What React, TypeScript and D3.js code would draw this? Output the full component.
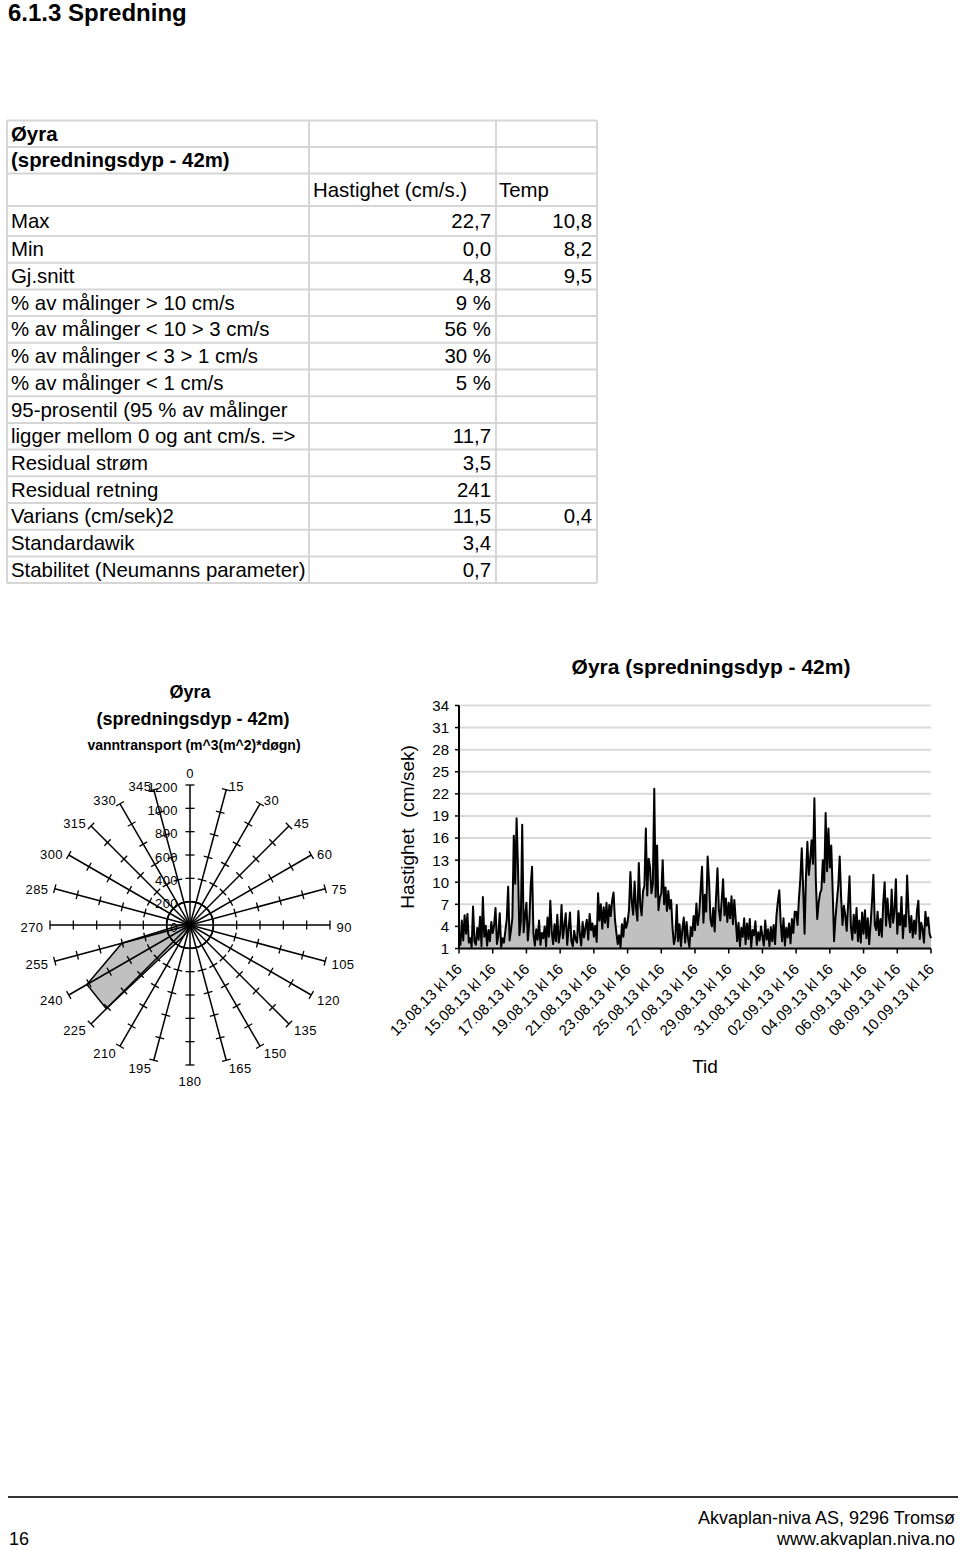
import React from 'react';
import * as d3 from 'd3';

const FONT = "'Liberation Sans', Arial, Helvetica, sans-serif";
const NARROW = "'Liberation Sans Narrow', 'Liberation Sans', Arial, sans-serif";

// ---------------- page text
const pageTitle = '6.1.3 Spredning';
const footerRight = ['Akvaplan-niva AS, 9296 Tromsø', 'www.akvaplan.niva.no'];
const pageNumber = '16';

// ---------------- table
const tableTitle = ['Øyra', '(spredningsdyp - 42m)'];
const tableColumns = ['Hastighet (cm/s.)', 'Temp'];
const rowLabels = [
  'Max', 'Min', 'Gj.snitt',
  '% av målinger > 10 cm/s', '% av målinger < 10 > 3 cm/s', '% av målinger < 3 > 1 cm/s', '% av målinger < 1 cm/s',
  '95-prosentil (95 % av målinger', 'ligger mellom 0 og ant cm/s. =>',
  'Residual strøm', 'Residual retning', 'Varians (cm/sek)2', 'Standardawik', 'Stabilitet (Neumanns parameter)',
];
const speedStats = ['22,7', '0,0', '4,8', '9 %', '56 %', '30 %', '5 %', '', '11,7', '3,5', '241', '11,5', '3,4', '0,7'];
const tempStats = ['10,8', '8,2', '9,5', '', '', '', '', '', '', '', '', '0,4', '', ''];

// ---------------- polar (vanntransport)
const polarTitle = ['Øyra', '(spredningsdyp  - 42m)', 'vanntransport (m^3(m^2)*døgn)'];
const directions = [0, 15, 30, 45, 60, 75, 90, 105, 120, 135, 150, 165, 180, 195, 210, 225, 240, 255, 270, 285, 300, 315, 330, 345];
const transport = [10, 10, 10, 15, 15, 20, 20, 20, 20, 25, 25, 30, 30, 40, 110, 1015, 1020, 605, 80, 30, 20, 15, 10, 10];
const transportTicks = [0, 200, 400, 600, 800, 1000, 1200];

// ---------------- time series (every 2 hours from 13.08.13 kl 16)
const seriesTitle = 'Øyra (spredningsdyp - 42m)';
const yTitle = 'Hastighet  (cm/sek)';
const xTitle = 'Tid';
const yTicks = [1, 4, 7, 10, 13, 16, 19, 22, 25, 28, 31, 34];
const dateLabels = [
  '13.08.13 kl 16', '15.08.13 kl 16', '17.08.13 kl 16', '19.08.13 kl 16', '21.08.13 kl 16',
  '23.08.13 kl 16', '25.08.13 kl 16', '27.08.13 kl 16', '29.08.13 kl 16', '31.08.13 kl 16',
  '02.09.13 kl 16', '04.09.13 kl 16', '06.09.13 kl 16', '08.09.13 kl 16', '10.09.13 kl 16',
];
const speed = [
  3.2, 1.5, 4.8, 2.1, 5.5, 3.0, 5.7, 1.8, 2.4, 1.2, 6.7, 2.0,
  1.5, 3.8, 2.2, 5.3, 1.3, 8.0, 2.6, 4.1, 1.4, 3.5, 2.0, 4.6,
  3.1, 4.2, 6.5, 1.6, 2.8, 5.8, 1.2, 2.4, 1.8, 3.4, 5.0, 9.4,
  2.1, 3.5, 5.2, 16.3, 9.8, 18.7, 12.0, 2.8, 4.6, 17.8, 3.2, 5.4,
  7.2, 2.1, 4.4, 9.4, 12.1, 3.0, 1.4, 3.6, 2.2, 4.8, 1.5, 3.1,
  2.4, 4.0, 1.3, 5.2, 2.6, 7.5, 3.3, 1.6, 4.3, 2.0, 5.6, 1.8,
  3.0, 6.9, 2.4, 4.1, 5.8, 1.5, 3.6, 5.9, 2.0, 1.3, 3.4, 2.2,
  1.8, 6.1, 3.0, 1.4, 4.6, 2.5, 3.8, 4.9, 2.2, 5.7, 3.5, 4.4,
  2.6, 4.1, 1.9, 8.5, 4.8, 7.0, 3.7, 6.6, 4.5, 7.2, 3.9, 6.9,
  5.4, 7.5, 8.6, 5.0, 3.2, 1.6, 2.8, 1.2, 4.3, 2.6, 5.1, 3.8,
  4.6, 6.2, 11.4, 7.3, 5.6, 10.1, 6.5, 4.8, 12.6, 7.0, 5.5, 8.8,
  9.5, 17.3, 8.2, 13.2, 12.0, 8.5, 9.8, 22.7, 8.0, 15.0, 6.2, 7.9,
  8.5, 13.0, 7.0, 9.3, 6.1, 8.8, 6.4, 7.6, 3.8, 1.6, 2.5, 6.9,
  2.0, 4.3, 1.3, 3.6, 5.2, 1.8, 4.6, 2.4, 1.2, 3.9, 2.7, 5.4,
  3.5, 7.1, 4.2, 5.8, 9.0, 12.1, 4.5, 8.3, 6.0, 13.5, 10.2, 5.0,
  4.0, 6.5, 3.3, 8.0, 11.9, 6.2, 4.8, 7.5, 10.4, 5.5, 7.8, 4.6,
  7.2, 5.1, 8.1, 4.3, 7.6, 4.9, 2.0, 4.5, 1.3, 3.8, 2.6, 5.1,
  1.6, 4.4, 2.3, 5.0, 1.2, 3.5, 2.8, 4.7, 1.5, 3.2, 2.1, 4.0,
  2.6, 1.4, 4.8, 2.2, 3.6, 1.3, 3.9, 2.0, 4.2, 1.6, 5.5, 7.4,
  8.9, 4.5, 2.0, 5.1, 1.4, 3.8, 2.5, 4.4, 1.7, 5.0, 3.1, 6.0,
  6.0, 4.2, 7.8, 10.5, 14.6, 9.2, 3.0, 10.8, 15.5, 11.0, 13.0, 15.7,
  12.5, 21.4, 10.3, 5.0, 7.2, 8.5, 9.0, 13.0, 10.0, 19.4, 11.5, 17.3,
  12.0, 15.0, 8.8, 2.0, 5.2, 7.4, 9.6, 13.5, 8.0, 4.2, 6.8, 5.5,
  3.4, 7.0, 10.8, 4.0, 2.2, 5.6, 3.1, 6.5, 2.0, 4.8, 1.8, 5.9,
  3.0, 6.2, 2.4, 5.1, 1.6, 4.3, 7.4, 11.0, 4.2, 3.5, 6.0, 2.8,
  5.0, 2.6, 7.2, 10.0, 4.1, 7.8, 5.2, 3.9, 9.0, 4.5, 6.1, 10.4,
  3.0, 5.8, 4.2, 8.0, 2.4, 5.5, 4.0, 10.9, 6.0, 3.2, 5.4, 2.5,
  4.8, 3.0, 6.1, 7.5, 2.3, 4.5, 3.6, 1.8, 6.0, 4.1, 5.2, 3.0,
  2.4,
];
const STEP_HOURS = 2;

// ================= components
function Table() {
  const colX = [7, 309, 496, 597];
  const bounds = [120.5, 147, 173.5, 206, ...d3.range(14).map((k) => 236 + 26.7 * k)];
  const border = '#d6d6d6';
  const rows: { a: string; b: string; c: string; bold?: boolean; header?: boolean }[] = [
    { a: tableTitle[0], b: '', c: '', bold: true },
    { a: tableTitle[1], b: '', c: '', bold: true },
    { a: '', b: tableColumns[0], c: tableColumns[1], header: true },
    ...rowLabels.map((l, i) => ({ a: l, b: speedStats[i], c: tempStats[i] })),
  ];
  return (
    <g fontFamily={FONT} fontSize={20.4} fill="#000">
      {bounds.map((y, i) => (
        <line key={'h' + i} x1={colX[0]} x2={colX[3]} y1={y} y2={y} stroke={border} strokeWidth={2} />
      ))}
      {colX.map((x, i) => (
        <line key={'v' + i} x1={x} x2={x} y1={bounds[0]} y2={bounds[bounds.length - 1]} stroke={border} strokeWidth={2} />
      ))}
      {rows.map((r, i) => {
        const yb = (bounds[i] + bounds[i + 1]) / 2 + 7;
        return (
          <g key={'r' + i}>
            <text x={11} y={yb} fontWeight={r.bold ? 'bold' : 'normal'}>{r.a}</text>
            {r.header ? (
              <>
                <text x={313} y={yb}>{r.b}</text>
                <text x={499} y={yb}>{r.c}</text>
              </>
            ) : (
              <>
                <text x={491} y={yb} textAnchor="end">{r.b}</text>
                <text x={592} y={yb} textAnchor="end">{r.c}</text>
              </>
            )}
          </g>
        );
      })}
    </g>
  );
}

function Polar() {
  const cx = 190, cy = 925, R = 140;
  const r = d3.scaleLinear().domain([0, 1200]).range([0, R]);
  const rad = (a: number) => (a * Math.PI) / 180;
  const pt = (a: number, rr: number): [number, number] => [cx + rr * Math.sin(rad(a)), cy - rr * Math.cos(rad(a))];
  const radial = d3
    .lineRadial<number>()
    .angle((_, i) => rad(directions[i]))
    .radius((d) => r(d))
    .curve(d3.curveLinearClosed);
  const tickVals = transportTicks.filter((t) => t > 0);
  return (
    <g>
      <defs>
        <clipPath id="polarClip">
          <rect x={0} y={660} width={385} height={426} />
        </clipPath>
      </defs>
      <g fontFamily={FONT} fontWeight="bold" textAnchor="middle" fill="#000" style={{ whiteSpace: 'pre' }}>
        <text x={190} y={698} fontSize={18}>{polarTitle[0]}</text>
        <text x={193} y={725} fontSize={18}>{polarTitle[1]}</text>
        <text x={194} y={750} fontSize={14}>{polarTitle[2]}</text>
      </g>
      <g clipPath="url(#polarClip)">
        <path d={radial(transport) || ''} transform={`translate(${cx},${cy})`} fill="#c0c0c0" stroke="#000" strokeWidth={1.5} />
        <circle cx={cx} cy={cy} r={r(200)} fill="none" stroke="#000" strokeWidth={1.5} />
        {directions.map((a) => {
          const [ex, ey] = pt(a, R);
          const px = Math.cos(rad(a)), py = Math.sin(rad(a));
          return (
            <g key={'s' + a}>
              <line x1={cx} y1={cy} x2={ex} y2={ey} stroke="#000" strokeWidth={1.5} />
              {tickVals.map((t) => {
                const [tx, ty] = pt(a, r(t));
                return <line key={t} x1={tx - 4.5 * px} y1={ty - 4.5 * py} x2={tx + 4.5 * px} y2={ty + 4.5 * py} stroke="#000" strokeWidth={1.3} />;
              })}
            </g>
          );
        })}
        <g fontFamily={NARROW} fontSize={13} fill="#000" letterSpacing={0.4}>
          {directions.map((a) => {
            const [ex, ey] = pt(a, R);
            const s = Math.sin(rad(a)), c = Math.cos(rad(a));
            let x = ex, y = ey, anchor = 'middle';
            if (a === 0 || a === 180) {
              y = ey + 2 - 14 * c;
            } else if (a < 180) {
              anchor = 'start';
              x = ex + 1 + 5.5 * Math.abs(s);
              y = ey + 2 - 6 * c;
            } else {
              anchor = 'end';
              x = ex - 1 - 5.5 * Math.abs(s);
              y = ey + 2 - 6 * c;
            }
            return <text key={'l' + a} x={x} y={y} dy="0.35em" textAnchor={anchor}>{String(a)}</text>;
          })}
          {transportTicks.map((t) => (
            <text key={'t' + t} x={cx - 12} y={cy - r(t) + 2} dy="0.35em" textAnchor="end">{String(t)}</text>
          ))}
        </g>
      </g>
    </g>
  );
}

function TimeSeries() {
  const x0 = 459, x1 = 931, yTop = 705.5, yBot = 948.5;
  const totalHours = (dateLabels.length - 1) * 48;
  const x = d3.scaleLinear().domain([0, totalHours]).range([x0, x1]);
  const y = d3.scaleLinear().domain([1, 34]).range([yBot, yTop]);
  const pts = speed.map((v, i) => ({ t: i * STEP_HOURS, v: Math.max(1, v) }));
  const area = d3.area<{ t: number; v: number }>().x((d) => x(d.t)).y0(y(1)).y1((d) => y(d.v));
  const line = d3.line<{ t: number; v: number }>().x((d) => x(d.t)).y((d) => y(d.v));
  const xTickHours = dateLabels.map((_, i) => i * 48);
  return (
    <g fontFamily={FONT} fill="#000">
      <text x={711} y={674} fontSize={21} fontWeight="bold" textAnchor="middle">{seriesTitle}</text>
      {yTicks.map((t) => (
        <line key={'g' + t} x1={x0} x2={x1} y1={y(t)} y2={y(t)} stroke="#d9d9d9" strokeWidth={2} />
      ))}
      <path d={area(pts) || ''} fill="#c0c0c0" />
      <path d={line(pts) || ''} fill="none" stroke="#000" strokeWidth={2} strokeLinejoin="round" />
      <line x1={x0} x2={x0} y1={yTop} y2={yBot} stroke="#000" strokeWidth={2} />
      <line x1={x0} x2={x1} y1={yBot} y2={yBot} stroke="#000" strokeWidth={2} />
      {yTicks.map((t) => (
        <g key={'yt' + t}>
          <line x1={x0 - 4} x2={x0} y1={y(t)} y2={y(t)} stroke="#000" strokeWidth={1.5} />
          <text x={449} y={y(t)} dy="0.36em" fontSize={15} textAnchor="end">{String(t)}</text>
        </g>
      ))}
      {xTickHours.map((h, i) => (
        <g key={'xt' + i}>
          <line x1={x(h)} x2={x(h)} y1={yBot} y2={yBot + 5} stroke="#000" strokeWidth={1.5} />
          <text
            x={x(h) + 4}
            y={970}
            fontSize={15}
            textAnchor="end"
            transform={`rotate(-45, ${x(h) + 4}, 970)`}
          >
            {dateLabels[i]}
          </text>
        </g>
      ))}
      <text x={705} y={1073} fontSize={19} textAnchor="middle">{xTitle}</text>
      <text
        x={0}
        y={0}
        fontSize={19}
        textAnchor="middle"
        style={{ whiteSpace: 'pre' }}
        transform={`translate(414, 827) rotate(-90)`}
      >
        {yTitle}
      </text>
    </g>
  );
}

export default function App() {
  return (
    <svg
      width={960}
      height={1550}
      viewBox="0 0 960 1550"
      style={{ position: 'absolute', left: 0, top: 0, display: 'block', background: '#fff' }}
    >
      <rect x={0} y={0} width={960} height={1550} fill="#fff" />
      <text x={8} y={21} fontFamily={FONT} fontSize={24} fontWeight="bold">{pageTitle}</text>
      <Table />
      <Polar />
      <TimeSeries />
      <line x1={8} x2={958} y1={1497} y2={1497} stroke="#333" strokeWidth={2} />
      <g fontFamily={FONT} fontSize={18} fill="#000">
        <text x={955} y={1524} textAnchor="end">{footerRight[0]}</text>
        <text x={955} y={1545} textAnchor="end">{footerRight[1]}</text>
        <text x={9} y={1545}>{pageNumber}</text>
      </g>
    </svg>
  );
}
